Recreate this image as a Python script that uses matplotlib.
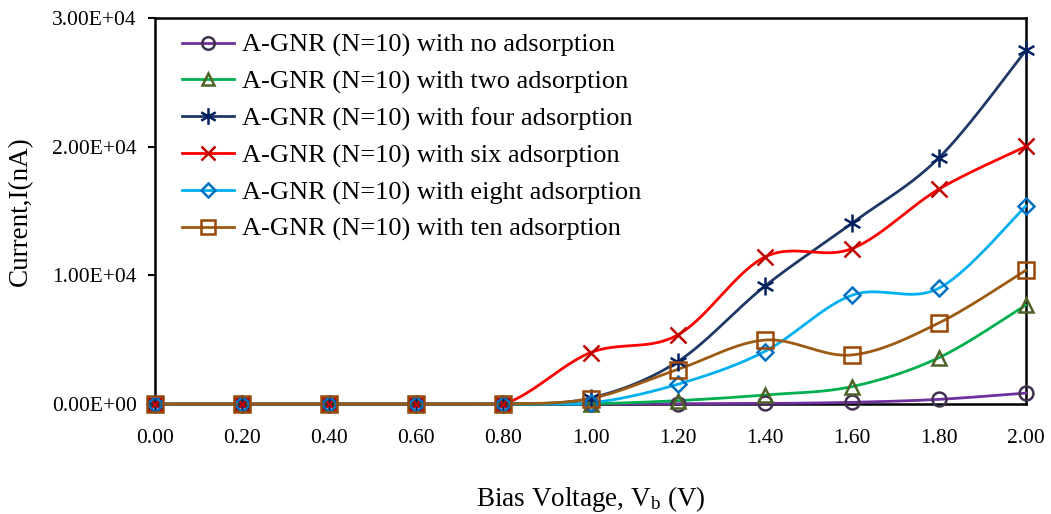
import numpy as np
import matplotlib
matplotlib.use("Agg")
import matplotlib.pyplot as plt
from matplotlib.lines import Line2D
from matplotlib.path import Path
from matplotlib.ticker import FuncFormatter, FixedLocator

plt.rcParams['font.family'] = ['Liberation Serif', 'DejaVu Serif']
plt.rcParams['mathtext.fontset'] = 'custom'
plt.rcParams['mathtext.rm'] = 'Liberation Serif'
plt.rcParams['mathtext.it'] = 'Liberation Serif:italic'

# Bias voltage (V)
bias_v = [0.0, 0.2, 0.4, 0.6, 0.8, 1.0, 1.2, 1.4, 1.6, 1.8, 2.0]

# Current (nA) for each adsorption case
i_none  = [0, 0, 0, 0, 0, 0, 20, 40, 130, 360, 850]
i_two   = [0, 0, 0, 0, 0, 20, 260, 700, 1350, 3600, 7700]
i_four  = [0, 0, 0, 0, 0, 460, 3290, 9150, 14050, 19130, 27480]
i_six   = [0, 0, 0, 0, 0, 3990, 5360, 11420, 12070, 16700, 20020]
i_eight = [0, 0, 0, 0, 0, 80, 1530, 4080, 8450, 9000, 15400]
i_ten   = [0, 0, 0, 0, 0, 420, 2680, 4970, 3810, 6300, 10400]

labels = [
    "A-GNR (N=10) with no adsorption",
    "A-GNR (N=10) with two adsorption",
    "A-GNR (N=10) with four adsorption",
    "A-GNR (N=10) with six adsorption",
    "A-GNR (N=10) with eight adsorption",
    "A-GNR (N=10) with ten adsorption",
]

# six-armed star: an x with a vertical bar
star_path = Path(
    [(0, -1), (0, 1), (-0.87, -0.5), (0.87, 0.5), (-0.87, 0.5), (0.87, -0.5)],
    [Path.MOVETO, Path.LINETO, Path.MOVETO, Path.LINETO, Path.MOVETO, Path.LINETO],
)

series = [
    (i_none,  '#7030A0', 'o', '#403151', 10),
    (i_two,   '#00B050', '^', '#4F6228', 10),
    (i_four,  '#1F3864', star_path, '#002060', 13),
    (i_six,   '#FF0000', 'x', '#C00000', 11),
    (i_eight, '#00B0F0', 'D', '#0070C0', 8),
    (i_ten,   '#9C5B12', 's', '#984807', 11),
]


def smooth(x, y, n=40):
    """Bezier smoothing through every point (tangent = neighbour difference / 6)."""
    x = np.asarray(x, float)
    y = np.asarray(y, float)
    xs, ys = [], []
    m = len(x)
    for i in range(m - 1):
        p0 = np.array([x[max(i - 1, 0)], y[max(i - 1, 0)]])
        p1 = np.array([x[i], y[i]])
        p2 = np.array([x[i + 1], y[i + 1]])
        p3 = np.array([x[min(i + 2, m - 1)], y[min(i + 2, m - 1)]])
        c1 = p1 + (p2 - p0) / 6.0
        c2 = p2 - (p3 - p1) / 6.0
        t = np.linspace(0, 1, n)[:, None]
        pts = ((1 - t) ** 3) * p1 + 3 * ((1 - t) ** 2) * t * c1 + 3 * (1 - t) * t ** 2 * c2 + t ** 3 * p2
        xs.append(pts[:, 0])
        ys.append(pts[:, 1])
    # the plot floor is zero current: keep the curve from dipping under it
    return np.concatenate(xs), np.maximum(np.concatenate(ys), 0.0)


fig = plt.figure(figsize=(10.51, 5.14), dpi=100)
ax = fig.add_axes([155 / 1051, 110 / 514, 871 / 1051, 386 / 514])

handles = []
for vals, lc, mk, mc, ms in series:
    sx, sy = smooth(bias_v, vals)
    ax.plot(sx, sy, color=lc, lw=2.0, zorder=3, clip_on=False, solid_capstyle='round')
    ax.plot(bias_v, vals, ls='none', marker=mk, ms=ms, mfc='none', mec=mc, mew=1.8,
            zorder=4, clip_on=False)
    handles.append(Line2D([], [], color=lc, lw=2.0, marker=mk, ms=ms - 1, mfc='none',
                          mec=mc, mew=1.8))

ax.set_xlim(0, 2.0)
ax.set_ylim(0, 30000)
ax.xaxis.set_major_locator(FixedLocator(bias_v))
ax.yaxis.set_major_locator(FixedLocator([0, 10000, 20000, 30000]))
ax.xaxis.set_major_formatter(FuncFormatter(lambda v, p: f"{v:.2f}"))
ax.yaxis.set_major_formatter(FuncFormatter(lambda v, p: f"{v:.2E}"))
ax.tick_params(axis='x', length=0, pad=18, labelsize=15.5)
ax.tick_params(axis='y', direction='out', length=5, width=1.5, pad=8, labelsize=15.5)

for s in ax.spines.values():
    s.set_linewidth(1.8)
    s.set_color('black')

ax.set_ylabel("Current,I(nA)", fontsize=19.5)
ax.yaxis.set_label_coords(-0.140, 0.5)
ax.set_xlabel(r"Bias Voltage, V$_{\mathrm{b}}$ (V)", fontsize=19.5)
ax.xaxis.set_label_coords(0.5, -0.207)

leg = ax.legend(handles, labels, loc='upper left', bbox_to_anchor=(0.0194, 0.9875),
                frameon=False, fontsize=19, handlelength=1.97, handletextpad=0.27,
                labelspacing=0.49, borderaxespad=0)

fig.savefig("out.png", dpi=100)
